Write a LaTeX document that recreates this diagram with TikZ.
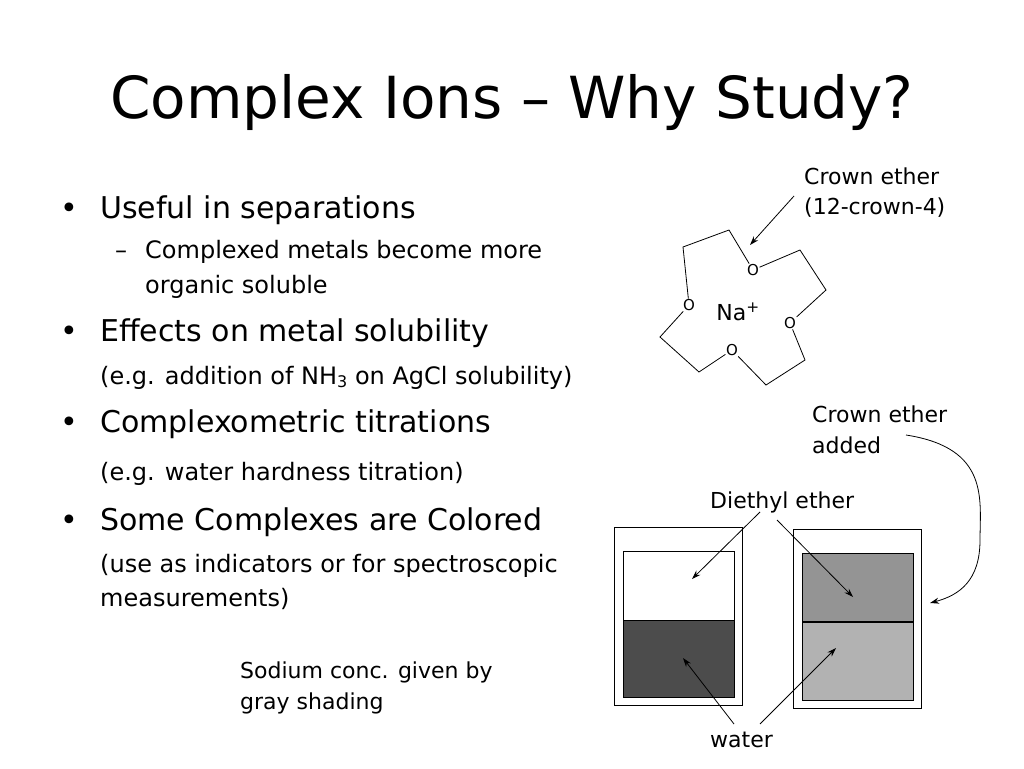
\documentclass[tikz,border=0pt]{standalone}
\usepackage{fontspec}
\setmainfont{DejaVu Sans}
\usetikzlibrary{arrows.meta}
\begin{document}
\begin{tikzpicture}[x=1pt,y=-1pt,
  txt/.style={anchor=base west,inner sep=0pt,font=\fontsize{#1}{#1}\selectfont},
  arr/.style={-{Stealth[length=9pt,width=6pt]},line width=0.8pt},
  oat/.style={inner sep=0.5pt,font=\fontsize{15}{15}\selectfont}]
\useasboundingbox (0,0) rectangle (1024,768);
\node[txt=58,anchor=base] (title) at (512,118) {Complex Ions – Why Study?};
\node[txt=30] (b1) at (60,218) {•};
\node[txt=30] (t1) at (100,218) {Useful in separations};
\node[txt=24] (d1) at (115,258) {–};
\node[txt=24] (t1a) at (145,258) {Complexed metals become more};
\node[txt=24] (t1b) at (145,293) {organic soluble};
\node[txt=30] (b2) at (60,341) {•};
\node[txt=30] (t2) at (100,341) {Effects on metal solubility};
\node[txt=24] (t2a) at (100,384) {(e.g. addition of NH\raisebox{-0.3ex}{\fontsize{16}{16}\selectfont 3} on AgCl solubility)};
\node[txt=30] (b3) at (60,432) {•};
\node[txt=30] (t3) at (100,432) {Complexometric titrations};
\node[txt=24] (t3a) at (100,480) {(e.g. water hardness titration)};
\node[txt=30] (b4) at (60,530) {•};
\node[txt=30] (t4) at (100,530) {Some Complexes are Colored};
\node[txt=24] (t4a) at (100,572) {(use as indicators or for spectroscopic};
\node[txt=24] (t4b) at (100,606) {measurements)};
\node[txt=22] (s1) at (240,678) {Sodium conc. given by};
\node[txt=22] (s2) at (240,709) {gray shading};
% crown ether
\node[txt=22] (c1) at (804,184) {Crown ether};
\node[txt=22] (c2) at (804,214) {(12-crown-4)};
\node[oat] (o1) at (753,270) {O};
\node[oat] (o2) at (790,323) {O};
\node[oat] (o3) at (732,350) {O};
\node[oat] (o4) at (689,305) {O};
\node[txt=22,anchor=base] (na) at (738,320) {Na\textsuperscript{+}};
\draw[line width=0.8pt] (o4) -- (683,247) -- (729,230) -- (o1);
\draw[line width=0.8pt] (o1) -- (800,250) -- (826,290) -- (o2);
\draw[line width=0.8pt] (o2) -- (805,360) -- (766,385) -- (o3);
\draw[line width=0.8pt] (o3) -- (699,372) -- (660,337) -- (o4);
\coordinate (ca) at (794,196);
\coordinate (ct) at (750,245);
\draw[arr] (ca) -- (ct);
% beakers
\draw[line width=0.8pt] (614,527) rectangle (742,705);
\draw[line width=0.8pt,fill=white] (623,551) rectangle (734,620);
\draw[line width=0.8pt,fill=black!70] (623,620) rectangle (734,697);
\draw[line width=0.8pt] (793,529) rectangle (921,708);
\draw[line width=0.8pt,fill=black!42] (802,553) rectangle (913,621);
\draw[line width=0.8pt,fill=black!30] (802,622) rectangle (913,700);
\node[txt=22] (ce1) at (812,422) {Crown ether};
\node[txt=22] (ce2) at (812,453) {added};
\node[txt=22] (de) at (710,508) {Diethyl ether};
\node[txt=22] (wa) at (710,747) {water};
\coordinate (de1) at (760,512);
\coordinate (de2) at (777,520);
\coordinate (w1) at (734,724);
\coordinate (w2) at (760,724);
\draw[arr] (de1) -- (692,579);
\draw[arr] (de2) -- (853,597);
\draw[arr] (w1) -- (683,658);
\draw[arr] (w2) -- (836,648);
\draw[arr] (906,435) .. controls (990,448) and (980,500) .. (980,540) .. controls (980,580) and (960,595) .. (930,603);
\end{tikzpicture}
\end{document}
